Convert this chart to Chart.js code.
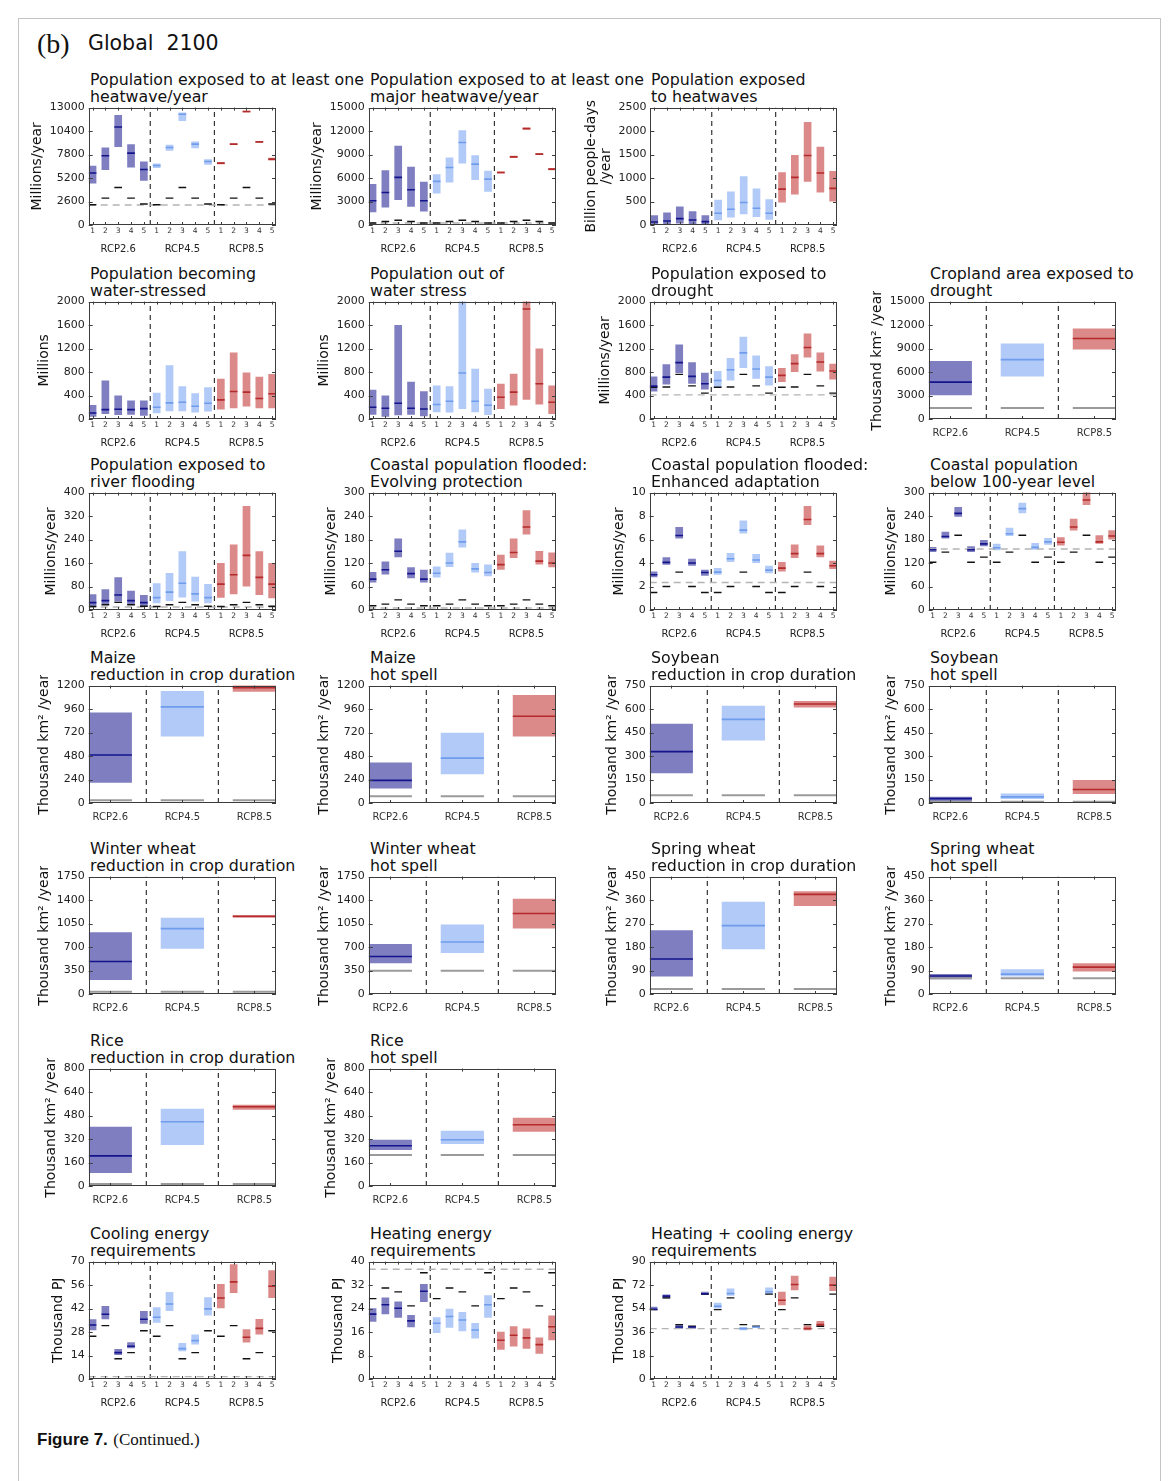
<!DOCTYPE html>
<html>
<head>
<meta charset="utf-8">
<script src="https://cdn.jsdelivr.net/npm/chart.js@4.4.1/dist/chart.umd.min.js"></script>
<style>
  body { margin: 0; background: #fff; }
  #fig { position: relative; width: 1171px; height: 1481px; overflow: hidden; font-family: 'DejaVu Sans', sans-serif; color: #111; }
  #fig canvas { position: absolute; left: 0; top: 0; }
  .border { position: absolute; left: 18px; top: 18px; width: 1141px; height: 1500px; border: 1px solid #c4c4c4; }
  .txt { position: absolute; white-space: nowrap; }
  .ptitle { position: absolute; white-space: nowrap; font-size: 15.8px; line-height: 17px; color: #111; }
</style>
</head>
<body>
<div id="fig">
  <div class="border"></div>
  <div class="txt" style="left:37px;top:28px;font-family:'Liberation Serif','DejaVu Serif',serif;font-size:28px;">(b)</div>
  <div class="txt" style="left:88px;top:31px;font-size:20.5px;">Global&nbsp;&nbsp;2100</div>
  <div class="txt" style="left:37px;top:1429px;font-size:17px;">
    <span style="font-family:'Liberation Sans',sans-serif;font-weight:bold;">Figure 7.</span>
    <span style="font-family:'Liberation Serif',serif;">(Continued.)</span>
  </div>
</div>
<script>
// --- DATA: bars are RCP2.6 models 1-5, RCP4.5 models 1-5, RCP8.5 models 1-5 ---
const scenarios = ['RCP2.6', 'RCP4.5', 'RCP8.5'];
const models = ['1', '2', '3', '4', '5'];

const heat1Low  = [4600, 6080, 8650, 6370, 4900, 6300, 8210, 11530, 8510, 6670, 6740, 8870, 12450, 9130, 7150];
const heat1Med  = [5750, 7660, 10860, 7960, 6150, 6590, 8580, 12260, 8950, 7030, 6850, 8950, 12560, 9210, 7290];
const heat1High = [6560, 8580, 12190, 8950, 7030, 6810, 8880, 12450, 9240, 7290, 6960, 9030, 12660, 9290, 7440];
const heat1Base = [2250, 2980, 4160, 2980, 2320];
const heat1Ref = 2210;

const heat2Low  = [1620, 2250, 3190, 2340, 1740, 4040, 5440, 7860, 5740, 4250, 6580, 8580, 12190, 8950, 7010];
const heat2Med  = [3100, 4160, 6080, 4500, 3100, 5570, 7350, 10540, 7780, 5860, 6710, 8710, 12320, 9050, 7140];
const heat2High = [5230, 7010, 10110, 7440, 5520, 6500, 8630, 12110, 8920, 6930, 6840, 8840, 12450, 9160, 7270];
const heat2Base = [250, 450, 600, 450, 250];
const heat2Ref = 250;

const heat3Low  = [10, 20, 30, 20, 10, 100, 160, 230, 170, 110, 480, 650, 920, 690, 500];
const heat3Med  = [64, 86, 136, 107, 71, 250, 336, 479, 357, 250, 764, 1014, 1479, 1107, 779];
const heat3High = [207, 264, 393, 293, 207, 536, 714, 1036, 779, 550, 1121, 1493, 2193, 1664, 1150];

const wsBecomeLow  = [40, 86, 69, 74, 57, 97, 131, 131, 109, 126, 160, 183, 211, 183, 183];
const wsBecomeMed  = [103, 160, 166, 160, 177, 200, 274, 286, 217, 269, 326, 469, 457, 349, 429];
const wsBecomeHigh = [240, 657, 400, 314, 314, 446, 914, 560, 440, 543, 686, 1131, 794, 720, 766];

const wsOutLow  = [74, 40, 63, 74, 46, 114, 109, 171, 114, 69, 171, 229, 326, 246, 86];
const wsOutMed  = [200, 183, 269, 183, 171, 246, 303, 783, 303, 234, 371, 457, 1874, 600, 286];
const wsOutHigh = [497, 400, 1600, 634, 474, 571, 560, 2100, 857, 514, 600, 771, 2100, 1200, 571];

const droughtLow  = [469, 589, 783, 600, 503, 526, 657, 869, 686, 571, 629, 800, 1046, 811, 674];
const droughtMed  = [560, 714, 960, 726, 600, 657, 840, 1126, 851, 714, 743, 943, 1217, 971, 817];
const droughtHigh = [726, 931, 1269, 966, 789, 817, 1040, 1400, 1080, 897, 869, 1103, 1457, 1131, 943];
const droughtBase = [540, 545, 760, 565, 440];
const droughtRef = 411;

const riverLow  = [11, 19, 29, 17, 11, 23, 31, 43, 29, 23, 42, 54, 80, 51, 40];
const riverMed  = [25, 32, 51, 32, 25, 42, 61, 91, 55, 42, 88, 120, 186, 111, 88];
const riverHigh = [54, 71, 112, 66, 51, 91, 126, 200, 113, 89, 160, 223, 354, 200, 160];
const riverBase = [12, 18, 26, 18, 13];
const riverRef = 10;

const coastEvoLow  = [70, 91, 135, 81, 70, 83, 110, 160, 96, 86, 103, 133, 193, 116, 109];
const coastEvoMed  = [79, 103, 150, 93, 79, 94, 120, 174, 105, 96, 116, 147, 212, 125, 120];
const coastEvoHigh = [97, 124, 183, 109, 103, 111, 146, 206, 120, 116, 141, 183, 255, 151, 147];
const coastEvoBase = [11, 15, 26, 15, 11];
const coastEvoRef = 5;

const coastEnhLow  = [2.8, 3.86, 6.09, 3.77, 2.91, 3.0, 4.09, 6.51, 4.0, 3.14, 3.29, 4.43, 7.23, 4.49, 3.49];
const coastEnhMed  = [3.0, 4.06, 6.34, 4.0, 3.2, 3.23, 4.37, 6.8, 4.26, 3.4, 3.57, 4.8, 7.71, 4.8, 3.77];
const coastEnhHigh = [3.29, 4.49, 7.06, 4.37, 3.43, 3.57, 4.86, 7.63, 4.77, 3.77, 4.09, 5.57, 8.86, 5.49, 4.2];
const coastEnhBase = [1.49, 2.0, 3.23, 2.0, 1.49];
const coastEnhRef = 2.34;

const coast100Low  = [148, 183, 238, 148, 163, 153, 189, 247, 154, 167, 165, 203, 268, 169, 180];
const coast100Med  = [154, 188, 247, 154, 169, 159, 195, 259, 160, 174, 173, 212, 281, 174, 189];
const coast100High = [161, 200, 263, 163, 179, 169, 210, 274, 171, 184, 186, 233, 302, 191, 204];
const coast100Base = [122, 148, 191, 122, 135];
const coast100Ref = 156;

const coolLow  = [29.0, 35.6, 14.3, 18.3, 33.0, 33.6, 40.6, 16.5, 20.5, 37.8, 42.2, 51.3, 21.7, 26.6, 48.3];
const coolMed  = [32.2, 38.6, 15.7, 19.5, 35.6, 36.8, 44.7, 18.1, 22.9, 41.8, 48.3, 57.9, 24.9, 30.2, 55.3];
const coolHigh = [35.6, 43.6, 17.9, 21.9, 40.6, 42.8, 51.9, 21.5, 26.6, 48.7, 56.7, 68.4, 29.6, 35.8, 64.8];
const coolBase = [25.5, 31.8, 12.1, 15.7, 28.8];
const coolRef = 1.4;

const heatLow  = [19.5, 22.1, 20.9, 17.6, 26.2, 15.7, 17.5, 16.3, 13.8, 20.9, 10.0, 11.1, 10.3, 8.6, 13.2];
const heatMed  = [22.1, 25.3, 24.1, 19.8, 29.9, 19.0, 21.3, 20.1, 16.7, 25.3, 13.2, 14.9, 14.0, 11.7, 17.8];
const heatHigh = [24.1, 27.8, 26.4, 21.8, 32.4, 21.0, 23.9, 22.8, 19.1, 28.5, 16.1, 18.0, 17.2, 14.1, 21.6];
const heatBase = [27.4, 31.0, 29.7, 24.9, 36.2];
const heatRef = 37.4;

const bothLow  = [52.7, 61.7, 38.6, 38.6, 64.3, 54.0, 63.8, 37.3, 39.1, 64.8, 56.6, 68.1, 37.3, 39.9, 67.4];
const bothMed  = [53.5, 63.5, 39.9, 39.9, 65.3, 55.8, 65.6, 38.6, 39.9, 66.9, 60.4, 72.5, 38.6, 41.7, 72.0];
const bothHigh = [55.3, 64.8, 41.7, 40.6, 66.9, 58.4, 69.4, 39.9, 40.6, 70.2, 66.9, 79.2, 41.1, 44.5, 78.4];
const bothBase = [53.2, 62.2, 41.7, 40.4, 65.1];
const bothRef = 38.6;

// --- DATA: one bar per scenario (RCP2.6, RCP4.5, RCP8.5) ---
const cropDroughtLow = [3040, 5440, 8870], cropDroughtMed = [4710, 7590, 10290], cropDroughtHigh = [7410, 9640, 11570], cropDroughtBase = 1410;
const maizeRedLow = [207, 679, 1138], maizeRedMed = [490, 983, 1179], maizeRedHigh = [924, 1145, 1215], maizeRedBase = 28;
const maizeHotLow = [148, 293, 679], maizeHotMed = [231, 459, 886], maizeHotHigh = [414, 717, 1103], maizeHotBase = 69;
const soyRedLow = [190, 399, 610], soyRedMed = [328, 534, 632], soyRedHigh = [506, 621, 651], soyRedBase = 50;
const soyHotLow = [8, 26, 58], soyHotMed = [28, 39, 86], soyHotHigh = [40, 60, 147], soyHotBase = 8;
const wwRedLow = [210, 675, 1135], wwRedMed = [485, 975, 1160], wwRedHigh = [920, 1135, 1175], wwRedBase = 35;
const wwHotLow = [460, 610, 975], wwHotMed = [560, 775, 1200], wwHotHigh = [745, 1035, 1420], wwHotBase = 345;
const swRedLow = [67, 172, 337], swRedMed = [134, 262, 382], swRedHigh = [244, 354, 394], swRedBase = 19;
const swHotLow = [57, 67, 86], swHotMed = [69, 76, 103], swHotHigh = [77, 95, 118], swHotBase = 60;
const riceRedLow = [89, 280, 520], riceRedMed = [205, 438, 540], riceRedHigh = [403, 526, 554], riceRedBase = 14;
const riceHotLow = [246, 287, 369], riceHotMed = [274, 315, 417], riceHotHigh = [315, 376, 465], riceHotBase = 212;

// --- STYLE ---
const fillColors = ['rgba(20,20,140,0.55)', 'rgba(100,150,240,0.5)', 'rgba(190,40,40,0.55)'];
const lineColors = ['#14148c', '#6f9cec', '#b52a2a'];
const colLeft = [89, 369, 650, 929];
const rowTop = [108, 302, 493, 686, 877, 1069, 1262];
const PLOT_W = 187;
const PLOT_H = 117;
const KM2 = 'Thousand km\u00b2 /year';

const modelPanels = [
    { col: 0, row: 0, title: ['Population exposed to at least one', 'heatwave/year'], ylabel: 'Millions/year', ymax: 13000, step: 2600, low: heat1Low, med: heat1Med, high: heat1High, base: heat1Base, ref: heat1Ref },
    { col: 1, row: 0, title: ['Population exposed to at least one', 'major heatwave/year'], ylabel: 'Millions/year', ymax: 15000, step: 3000, low: heat2Low, med: heat2Med, high: heat2High, base: heat2Base, ref: heat2Ref },
    { col: 2, row: 0, title: ['Population exposed', 'to heatwaves'], ylabel: ['Billion people-days', '/year'], ymax: 2500, step: 500, low: heat3Low, med: heat3Med, high: heat3High },
    { col: 0, row: 1, title: ['Population becoming', 'water-stressed'], ylabel: 'Millions', ymax: 2000, step: 400, low: wsBecomeLow, med: wsBecomeMed, high: wsBecomeHigh },
    { col: 1, row: 1, title: ['Population out of', 'water stress'], ylabel: 'Millions', ymax: 2000, step: 400, low: wsOutLow, med: wsOutMed, high: wsOutHigh },
    { col: 2, row: 1, title: ['Population exposed to', 'drought'], ylabel: 'Millions/year', ymax: 2000, step: 400, low: droughtLow, med: droughtMed, high: droughtHigh, base: droughtBase, ref: droughtRef },
    { col: 0, row: 2, title: ['Population exposed to', 'river flooding'], ylabel: 'Millions/year', ymax: 400, step: 80, low: riverLow, med: riverMed, high: riverHigh, base: riverBase, ref: riverRef },
    { col: 1, row: 2, title: ['Coastal population flooded:', 'Evolving protection'], ylabel: 'Millions/year', ymax: 300, step: 60, low: coastEvoLow, med: coastEvoMed, high: coastEvoHigh, base: coastEvoBase, ref: coastEvoRef },
    { col: 2, row: 2, title: ['Coastal population flooded:', 'Enhanced adaptation'], ylabel: 'Millions/year', ymax: 10, step: 2, low: coastEnhLow, med: coastEnhMed, high: coastEnhHigh, base: coastEnhBase, ref: coastEnhRef },
    { col: 3, row: 2, title: ['Coastal population', 'below 100-year level'], ylabel: 'Millions/year', ymax: 300, step: 60, low: coast100Low, med: coast100Med, high: coast100High, base: coast100Base, ref: coast100Ref },
    { col: 0, row: 6, title: ['Cooling energy', 'requirements'], ylabel: 'Thousand PJ', ymax: 70, step: 14, low: coolLow, med: coolMed, high: coolHigh, base: coolBase, ref: coolRef },
    { col: 1, row: 6, title: ['Heating energy', 'requirements'], ylabel: 'Thousand PJ', ymax: 40, step: 8, low: heatLow, med: heatMed, high: heatHigh, base: heatBase, ref: heatRef },
    { col: 2, row: 6, title: ['Heating + cooling energy', 'requirements'], ylabel: 'Thousand PJ', ymax: 90, step: 18, low: bothLow, med: bothMed, high: bothHigh, base: bothBase, ref: bothRef }
];

const scenarioPanels = [
    { col: 3, row: 1, title: ['Cropland area exposed to', 'drought'], ylabel: KM2, ymax: 15000, step: 3000, low: cropDroughtLow, med: cropDroughtMed, high: cropDroughtHigh, base: cropDroughtBase },
    { col: 0, row: 3, title: ['Maize', 'reduction in crop duration'], ylabel: KM2, ymax: 1200, step: 240, low: maizeRedLow, med: maizeRedMed, high: maizeRedHigh, base: maizeRedBase },
    { col: 1, row: 3, title: ['Maize', 'hot spell'], ylabel: KM2, ymax: 1200, step: 240, low: maizeHotLow, med: maizeHotMed, high: maizeHotHigh, base: maizeHotBase },
    { col: 2, row: 3, title: ['Soybean', 'reduction in crop duration'], ylabel: KM2, ymax: 750, step: 150, low: soyRedLow, med: soyRedMed, high: soyRedHigh, base: soyRedBase },
    { col: 3, row: 3, title: ['Soybean', 'hot spell'], ylabel: KM2, ymax: 750, step: 150, low: soyHotLow, med: soyHotMed, high: soyHotHigh, base: soyHotBase },
    { col: 0, row: 4, title: ['Winter wheat', 'reduction in crop duration'], ylabel: KM2, ymax: 1750, step: 350, low: wwRedLow, med: wwRedMed, high: wwRedHigh, base: wwRedBase },
    { col: 1, row: 4, title: ['Winter wheat', 'hot spell'], ylabel: KM2, ymax: 1750, step: 350, low: wwHotLow, med: wwHotMed, high: wwHotHigh, base: wwHotBase },
    { col: 2, row: 4, title: ['Spring wheat', 'reduction in crop duration'], ylabel: KM2, ymax: 450, step: 90, low: swRedLow, med: swRedMed, high: swRedHigh, base: swRedBase },
    { col: 3, row: 4, title: ['Spring wheat', 'hot spell'], ylabel: KM2, ymax: 450, step: 90, low: swHotLow, med: swHotMed, high: swHotHigh, base: swHotBase },
    { col: 0, row: 5, title: ['Rice', 'reduction in crop duration'], ylabel: KM2, ymax: 800, step: 160, low: riceRedLow, med: riceRedMed, high: riceRedHigh, base: riceRedBase },
    { col: 1, row: 5, title: ['Rice', 'hot spell'], ylabel: KM2, ymax: 800, step: 160, low: riceHotLow, med: riceHotMed, high: riceHotHigh, base: riceHotBase }
];

// --- CHART DEFAULTS ---
Chart.defaults.font.family = "'DejaVu Sans', sans-serif";
Chart.defaults.color = '#222';
Chart.defaults.animation = false;
Chart.defaults.events = [];
Chart.defaults.plugins.legend.display = false;
Chart.defaults.plugins.tooltip.enabled = false;

// matplotlib-like box with inward ticks on all four sides, taken from the scales
const framePlugin = {
    id: 'frame',
    afterDraw(chart) {
        const { ctx } = chart;
        const x = chart.scales.x, y = chart.scales.y;
        const l = x.left, r = x.right, t = y.top, b = y.bottom;
        ctx.save();
        ctx.strokeStyle = '#3c3c3c';
        ctx.lineWidth = 1;
        ctx.strokeRect(Math.round(l) + 0.5, Math.round(t) + 0.5, Math.round(r - l) - 1, Math.round(b - t) - 1);
        ctx.beginPath();
        y.ticks.forEach(tk => {
            const py = Math.round(y.getPixelForValue(tk.value)) + 0.5;
            ctx.moveTo(l, py); ctx.lineTo(l + 4, py);
            ctx.moveTo(r - 4, py); ctx.lineTo(r, py);
        });
        x.ticks.forEach(tk => {
            const px = Math.round(x.getPixelForValue(tk.value)) + 0.5;
            ctx.moveTo(px, b); ctx.lineTo(px, b - 3);
            ctx.moveTo(px, t); ctx.lineTo(px, t + 3);
        });
        ctx.stroke();
        ctx.restore();
    }
};

const fig = document.getElementById('fig');

function addTitle(p) {
    const div = document.createElement('div');
    div.className = 'ptitle';
    div.style.left = (colLeft[p.col] + 1) + 'px';
    div.style.top = (rowTop[p.row] - 37) + 'px';
    div.innerHTML = p.title.join('<br>');
    fig.appendChild(div);
}

function hidden() {
    return { display: false, drawTicks: false };
}

// --- PANEL CONFIG ---
function makeConfig(p, isModel) {
    const n = isModel ? scenarios.length * models.length : scenarios.length;
    const xs = Array.from({ length: n }, (_, i) => i);
    const xMin = -0.3, xMax = n - 1 + 0.3;
    const group = i => isModel ? Math.floor(i / models.length) : i;
    const seps = isModel ? [4.5, 9.5] : [0.5, 1.5];
    const halfBar = ctx => {
        const s = ctx.chart.scales.x;
        return Math.abs(s.getPixelForValue(0.3) - s.getPixelForValue(0));
    };
    const ax = { xAxisID: 'x', yAxisID: 'y' };

    const datasets = [
        {
            ...ax, type: 'bar', order: 10,
            data: xs.map(i => ({ x: i, y: [p.low[i], p.high[i]] })),
            backgroundColor: xs.map(i => fillColors[group(i)]),
            barPercentage: 0.6, categoryPercentage: 1
        },
        {
            ...ax, type: 'line', order: 1, showLine: false,
            data: xs.map(i => ({ x: i, y: p.med[i] })),
            pointStyle: 'line', pointRadius: halfBar, pointHoverRadius: halfBar,
            pointBorderWidth: 1.6, pointBorderColor: xs.map(i => lineColors[group(i)])
        }
    ];
    if (p.base !== undefined) {
        datasets.push({
            ...ax, type: 'line', order: isModel ? 2 : 6, showLine: false,
            data: xs.map(i => ({ x: i, y: isModel ? p.base[i % models.length] : p.base })),
            pointStyle: 'line', pointRadius: halfBar, pointHoverRadius: halfBar,
            pointBorderWidth: isModel ? 1.4 : 2, pointBorderColor: isModel ? '#111' : '#9a9a9a'
        });
    }
    if (p.ref !== undefined) {
        datasets.push({
            ...ax, type: 'line', order: 3,
            data: [{ x: xMin, y: p.ref }, { x: xMax, y: p.ref }],
            borderColor: '#b4b4b4', borderDash: [7, 5], borderWidth: 1.4, pointRadius: 0
        });
    }
    seps.forEach(s => {
        datasets.push({
            ...ax, type: 'line', order: 4,
            data: [{ x: s, y: 0 }, { x: s, y: p.ymax }],
            borderColor: '#333', borderDash: [5, 4], borderWidth: 1.2, pointRadius: 0
        });
    });

    const scales = {
        x: {
            type: 'linear', min: xMin, max: xMax, offset: false, weight: 0,
            grid: hidden(), border: { display: false },
            afterBuildTicks: axis => { axis.ticks = xs.map(v => ({ value: v })); },
            ticks: {
                autoSkip: false, maxRotation: 0, minRotation: 0,
                padding: isModel ? 2 : 8,
                color: '#333',
                font: { size: isModel ? 7.5 : 10 },
                callback: (v, i) => isModel ? models[i % models.length] : scenarios[i]
            }
        },
        y: {
            type: 'linear', min: 0, max: p.ymax,
            grid: hidden(), border: { display: false },
            ticks: { stepSize: p.step, padding: 4, color: '#222', font: { size: 11 }, callback: v => String(v) },
            title: { display: true, text: p.ylabel, color: '#111', font: { size: 14, lineHeight: 1.05 }, padding: { top: 0, bottom: 1 } }
        }
    };
    if (isModel) {
        scales.x2 = {
            type: 'linear', position: 'bottom', min: xMin, max: xMax, offset: false, weight: 1,
            grid: hidden(), border: { display: false },
            afterBuildTicks: axis => { axis.ticks = scenarios.map((_, g) => ({ value: g * models.length + 2 })); },
            ticks: { autoSkip: false, maxRotation: 0, minRotation: 0, padding: 5, color: '#222', font: { size: 10 }, callback: (v, i) => scenarios[i] }
        };
    }

    return {
        type: 'bar',
        data: { datasets },
        options: {
            responsive: false,
            maintainAspectRatio: false,
            layout: { padding: { top: 8, right: 30, left: 0, bottom: 0 } },
            scales
        },
        plugins: [framePlugin]
    };
}

// --- PANEL BUILDER: rebuild until the x/y scales span the wanted plot box ---
function buildPanel(p, isModel) {
    addTitle(p);
    const canvas = document.createElement('canvas');
    fig.appendChild(canvas);
    let w = 360, h = 220, chart = null;
    for (let k = 0; k < 6; k++) {
        canvas.width = w;
        canvas.height = h;
        chart = new Chart(canvas, makeConfig(p, isModel));
        const x = chart.scales.x, y = chart.scales.y;
        const nw = Math.round(w + PLOT_W - (x.right - x.left));
        const nh = Math.round(h + PLOT_H - (y.bottom - y.top));
        if (nw === w && nh === h) break;
        chart.destroy();
        w = nw;
        h = nh;
    }
    const x = chart.scales.x, y = chart.scales.y;
    canvas.style.left = Math.round(colLeft[p.col] - x.left) + 'px';
    canvas.style.top = Math.round(rowTop[p.row] - y.top) + 'px';
}

modelPanels.forEach(p => buildPanel(p, true));
scenarioPanels.forEach(p => buildPanel(p, false));
</script>
</body>
</html>
